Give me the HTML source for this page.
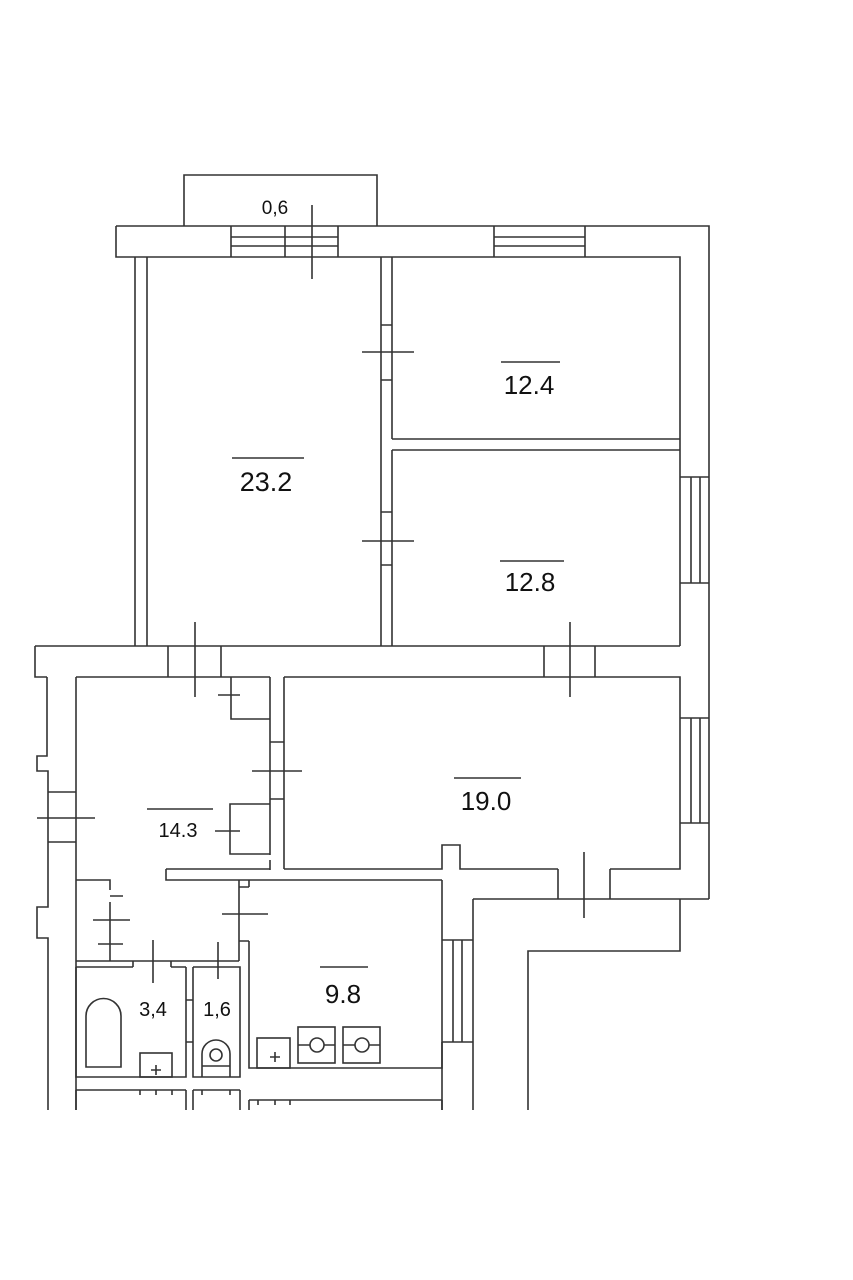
<!DOCTYPE html>
<html><head><meta charset="utf-8"><style>
html,body{margin:0;padding:0;background:#fff;}
svg{display:block;}
text{font-family:"Liberation Sans",sans-serif;fill:#111;}
</style></head><body>
<svg width="853" height="1280" viewBox="0 0 853 1280" xmlns="http://www.w3.org/2000/svg">
<g stroke="#333" stroke-width="1.6" fill="none">
<path d="M184 226 V175 H377 V226"/>
<path d="M116 226 H709 V899"/>
<path d="M116 226 V257 H680 V646"/>
<path d="M231 226 V257 M338 226 V257 M285 226 V257 M231 237 H338 M231 246 H338"/>
<path d="M494 226 V257 M585 226 V257 M494 237 H585 M494 246 H585"/>
<path d="M312 205 V279"/>
<path d="M680 477 H709 M680 583 H709 M691 477 V583 M700 477 V583"/>
<path d="M680 718 H709 M680 823 H709 M691 718 V823 M700 718 V823"/>
<path d="M135 257 V646 M147 257 V646"/>
<path d="M381 257 V646 M392 257 V439 M392 450 V646"/>
<path d="M381 325 H392 M381 380 H392 M362 352 H414"/>
<path d="M381 512 H392 M381 565 H392 M362 541 H414"/>
<path d="M392 439 H680 M392 450 H680"/>
<path d="M35 646 H680 M35 646 V677 H47"/>
<path d="M168 646 V677 M221 646 V677 M195 622 V697"/>
<path d="M544 646 V677 M595 646 V677 M570 622 V697"/>
<path d="M47 677 V756 H37 V771 H48 V907 H37 V938 H48 V1110"/>
<path d="M76 677 V1110"/>
<path d="M48 792 H76 M48 842 H76 M37 818 H95"/>
<path d="M76 677 H270"/>
<path d="M231 677 V719 H270 M218 695 H240"/>
<path d="M270 677 V855 M270 860 V870 M284 677 V869"/>
<path d="M270 742 H284 M270 799 H284 M252 771 H302"/>
<path d="M270 804 H230 V854 H270 M215 831 H240"/>
<path d="M284 677 H680 V869 H610 M558 869 H460 V845 H442 V869 H284"/>
<path d="M166 869 H270 M166 869 V880 H442"/>
<path d="M558 869 V899 M610 869 V899 M584 852 V918"/>
<path d="M473 899 H709"/>
<path d="M680 899 V951 H528 V1110"/>
<path d="M473 899 V1110"/>
<path d="M249 880 V887 M249 941 V1068 H442 V880"/>
<path d="M239 880 V961 M239 887 H249 M239 941 H249 M222 914 H268"/>
<path d="M442 940 H473 M442 1042 H473 M453 940 V1042 M462 940 V1042 M442 1042 V1110"/>
<rect x="298" y="1027" width="37" height="36"/>
<rect x="343" y="1027" width="37" height="36"/>
<path d="M298 1045 H335 M343 1045 H380"/>
<rect x="257" y="1038" width="33" height="30"/>
<path d="M270 1057 H280 M275 1052 V1062"/>
<path d="M249 1100 H442 M249 1100 V1110 M442 1100 V1110 M258 1100 V1105 M275 1100 V1105 M290 1100 V1105"/>
<path d="M76 880 H110 V890 M110 902 V961 M110 896 H123 M93 920 H130 M98 944 H123"/>
<path d="M76 961 H239 M76 967 H133 M171 967 H186 M133 961 V967 M171 961 V967 M153 940 V983"/>
<path d="M76 967 V1077 H186 V967"/>
<path d="M186 1000 H193 M186 1042 H193"/>
<path d="M193 967 V1077 H240 V967 H193 M218 942 V979"/>
<path d="M86 1067 V1016 A17.5 17.5 0 0 1 121 1016 V1067 Z"/>
<rect x="140" y="1053" width="32" height="24"/>
<path d="M151 1070 H161 M156 1065 V1075"/>
<path d="M202 1077 V1054 A14 14 0 0 1 230 1054 V1077 M202 1066 H230"/>
<path d="M76 1090 H186 M76 1090 V1110 M186 1090 V1110 M140 1090 V1095 M156 1090 V1095 M172 1090 V1095"/>
<path d="M193 1090 H240 M193 1090 V1110 M240 1090 V1110 M202 1090 V1095 M230 1090 V1095"/>
<path d="M232 458 H304 M501 362 H560 M500 561 H564 M454 778 H521 M320 967 H368 M147 809 H213"/>
</g>
<g fill="#fff" stroke="#333" stroke-width="1.6">
<circle cx="317" cy="1045" r="7"/>
<circle cx="362" cy="1045" r="7"/>
<circle cx="216" cy="1055" r="6"/>
</g>
<text x="266" y="491" font-size="27" text-anchor="middle">23.2</text>
<text x="529" y="394" font-size="26" text-anchor="middle">12.4</text>
<text x="530" y="591" font-size="26" text-anchor="middle">12.8</text>
<text x="486" y="810" font-size="26" text-anchor="middle">19.0</text>
<text x="343" y="1003" font-size="26" text-anchor="middle">9.8</text>
<text x="178" y="837" font-size="20" text-anchor="middle">14.3</text>
<text x="153" y="1016" font-size="20" text-anchor="middle">3,4</text>
<text x="217" y="1016" font-size="20" text-anchor="middle">1,6</text>
<text x="275" y="214" font-size="19" text-anchor="middle">0,6</text>
</svg>
</body></html>
